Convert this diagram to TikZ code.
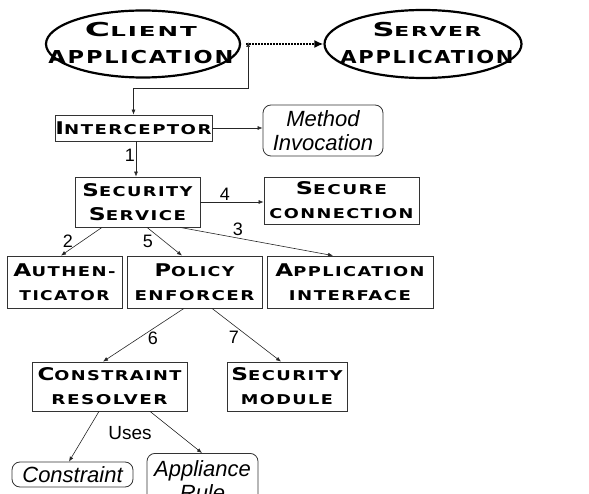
\documentclass[tikz,border=0pt]{standalone}
\usepackage{fontspec}
\usepackage{graphicx}
\setmainfont{Liberation Sans}
\newfontfamily\cpfont[LetterSpace=8]{DejaVu Sans}
\usetikzlibrary{shapes.geometric,arrows.meta,calc}
\newcommand\Bg[1]{{\fontsize{17.5}{24}\selectfont #1}}
\newcommand\Eg[1]{{\fontsize{19.2}{26.5}\selectfont #1}}
\newcommand\Wd[2]{\resizebox{#1pt}{\height}{#2}}
\begin{document}
\begin{tikzpicture}[x=1pt,y=-1pt,
 box/.style={draw=black!80, line width=0.8pt, rectangle, inner sep=0pt, align=center, font=\cpfont\bfseries\fontsize{13.5}{24}\selectfont},
 ell/.style={draw, ellipse, line width=2.2pt, inner sep=0pt},
 etext/.style={inner sep=0pt, align=center, font=\cpfont\bfseries\fontsize{13.7}{26.5}\selectfont},
 rbox/.style={draw=black!80, line width=0.8pt, rounded corners=8pt, inner sep=0pt, align=center, font=\itshape\fontsize{22}{24}\selectfont},
 arr/.style={draw=black!85, line width=0.6pt, -{Latex[length=5pt,width=4pt]}},
 num/.style={font=\fontsize{18}{20}\selectfont, inner sep=0pt}
]
\useasboundingbox (0,0) rectangle (589,494);
\clip (0,0) rectangle (589,494);

\node[ell, minimum width=194pt, minimum height=67pt] (client) at (143,44) {};
\node[etext] (clienttxt) at (141,43) {\Wd{112}{\Eg{C}LIENT}\\\Wd{185}{\fontsize{17.8}{26.5}\selectfont APPLICATION}};
\node[ell, minimum width=197pt, minimum height=68pt] (server) at (423,44) {};
\node[etext] (servertxt) at (427,43) {\Wd{109}{\Eg{S}ERVER}\\\Wd{173}{\fontsize{17.8}{26.5}\selectfont APPLICATION}};

\node[box, minimum width=157pt, minimum height=26pt] (intc) at (133.5,128) {\Wd{156}{\Bg{I}NTERCEPTOR}};
\node[rbox, minimum width=120pt, minimum height=51pt] (meth) at (323,130.5) {Method\\Invocation};

\node[box, minimum width=125pt, minimum height=50pt] (secs) at (137.5,202) {\Wd{110}{\Bg{S}ECURITY}\\\Wd{97}{\Bg{S}ERVICE}};
\node[box, minimum width=155pt, minimum height=47pt] (secc) at (341.5,200.5) {\Wd{91}{\Bg{S}ECURE}\\\Wd{144}{CONNECTION}};

\node[box, minimum width=115pt, minimum height=52pt] (auth) at (64.5,282) {\Wd{102}{\Bg{A}UTHEN-}\\\Wd{90}{TICATOR}};
\node[box, minimum width=135pt, minimum height=52pt] (pol) at (194.5,282) {\Wd{80}{\Bg{P}OLICY}\\\Wd{120}{ENFORCER}};
\node[box, minimum width=166pt, minimum height=52pt] (app) at (350,282) {\Wd{149}{\Bg{A}PPLICATION}\\\Wd{122}{INTERFACE}};

\node[box, minimum width=155pt, minimum height=49pt] (cr) at (109.5,386.5) {\Wd{144}{\Bg{C}ONSTRAINT}\\\Wd{116}{RESOLVER}};
\node[box, minimum width=120pt, minimum height=49pt] (sm) at (287,386.5) {\Wd{111}{\Bg{S}ECURITY}\\\Wd{92}{MODULE}};

\node[rbox, minimum width=121pt, minimum height=25pt] (cons) at (72.5,474.5) {Constraint};
\node[rbox, minimum width=111pt, minimum height=54pt, anchor=north] (apr) at (202.5,453) {Appliance\\Rule};

% connectors
\draw[line width=2.2pt, dash pattern=on 1.6pt off 1.4pt, -{Latex[length=9pt,width=8pt]}] ([xshift=5pt]client.east) -- (server.west);
\draw[draw=black!85, line width=0.6pt, {Latex[length=5pt,width=4pt]}-{Latex[length=5pt,width=4pt]}] (intc.north) -- ++(0,-26) -| ([xshift=7pt,yshift=2pt]client.east);
\draw[arr] (intc.east) -- (intc.east -| meth.west);
\draw[arr] ([xshift=2.5pt]intc.south) -- ([xshift=-1.5pt]secs.north);
\draw[arr] (secs.east) -- (secs.east -| secc.west);
\draw[arr] ([xshift=-35.5pt]secs.south) -- ([xshift=-3.5pt]auth.north);
\draw[arr] ([xshift=9.5pt]secs.south) -- ([xshift=-12.5pt]pol.north);
\draw[arr] ([xshift=42.5pt]secs.south) -- ([xshift=-17pt]app.north);
\draw[arr] ([xshift=-10.5pt]pol.south) -- ([xshift=-6.5pt]cr.north);
\draw[arr] ([xshift=17.5pt]pol.south) -- ([xshift=-6pt]sm.north);
\draw[arr] ([xshift=-10.5pt]cr.south) -- ([xshift=-3.5pt]cons.north);
\draw[arr] ([xshift=40.5pt]cr.south) -- ([xshift=-0.5pt]apr.north);

% labels
\node[num] (l1) at (130,155) {1};
\node[num] (l4) at (225,194) {4};
\node[num] (l2) at (68,241) {2};
\node[num] (l5) at (148,241) {5};
\node[num] (l3) at (238,229) {3};
\node[num] (l6) at (153,338) {6};
\node[num] (l7) at (234,337) {7};
\node[num, font=\fontsize{19}{20}\selectfont] (uses) at (130,433) {Uses};
\end{tikzpicture}
\end{document}
